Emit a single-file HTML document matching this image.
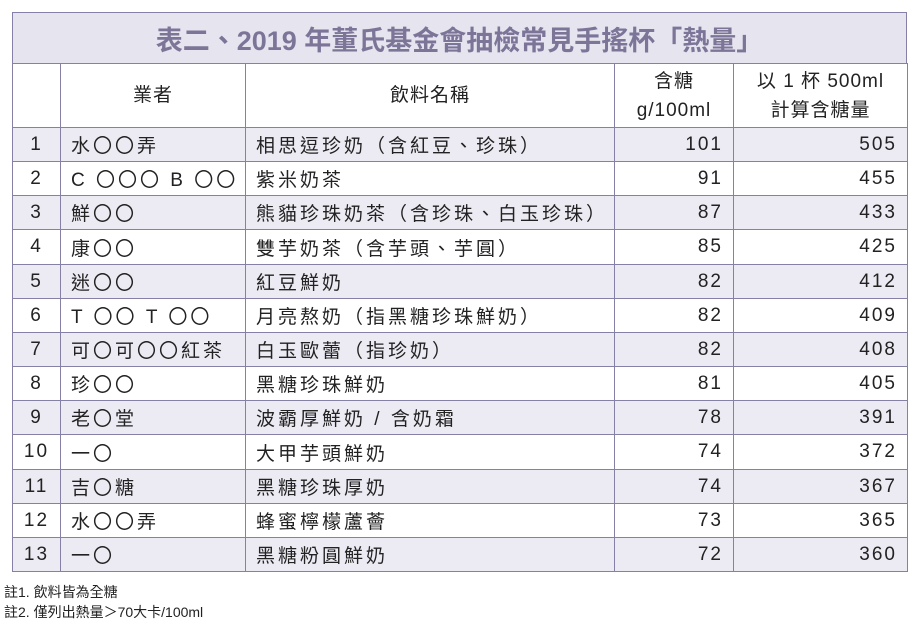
<!DOCTYPE html><html><head><meta charset="utf-8"><style>
body{margin:0;width:918px;height:629px;background:#fff;font-family:"Liberation Sans","Noto Sans CJK TC",sans-serif;color:#222;position:relative;overflow:hidden}
.c{position:absolute;box-sizing:border-box;border:1px solid #8580a6;display:flex;align-items:center;font-size:19px;white-space:nowrap}
.n{letter-spacing:2px}
.t{letter-spacing:3px}
.note{position:absolute;left:4px;font-size:14px}
</style></head><body>
<div class="c" style="left:12px;top:12px;width:895px;height:52px;background:#e6e4ef;justify-content:center;color:#7c7598;font-weight:bold;font-size:27px">表二、2019 年董氏基金會抽檢常見手搖杯「熱量」</div>
<div id="t"></div>
<div class="note" style="top:582px">註1. 飲料皆為全糖</div>
<div class="note" style="top:602px">註2. 僅列出熱量＞70大卡/100ml</div>
<script>
const X=[12,60,245,614,733,907];
const rows=[["1","水〇〇弄","相思逗珍奶（含紅豆、珍珠）","101","505"],["2","C 〇〇〇 B 〇〇","紫米奶茶","91","455"],["3","鮮〇〇","熊貓珍珠奶茶（含珍珠、白玉珍珠）","87","433"],["4","康〇〇","雙芋奶茶（含芋頭、芋圓）","85","425"],["5","迷〇〇","紅豆鮮奶","82","412"],["6","T 〇〇 T 〇〇","月亮熬奶（指黑糖珍珠鮮奶）","82","409"],["7","可〇可〇〇紅茶","白玉歐蕾（指珍奶）","82","408"],["8","珍〇〇","黑糖珍珠鮮奶","81","405"],["9","老〇堂","波霸厚鮮奶 / 含奶霜","78","391"],["10","一〇","大甲芋頭鮮奶","74","372"],["11","吉〇糖","黑糖珍珠厚奶","74","367"],["12","水〇〇弄","蜂蜜檸檬蘆薈","73","365"],["13","一〇","黑糖粉圓鮮奶","72","360"]];
let h="";
const hd=["","業者","飲料名稱","含糖<br>g/100ml","以 1 杯 500ml<br>計算含糖量"];
for(let j=0;j<5;j++)h+=`<div class="c" style="left:${X[j]}px;top:63px;width:${X[j+1]-X[j]+1}px;height:65px;justify-content:center;text-align:center;line-height:29px;letter-spacing:1px">${hd[j]}</div>`;
rows.forEach((r,i)=>{const y=Math.round(127+i*34.15),y2=Math.round(127+(i+1)*34.15);const bg=i%2==0?"#ecebf3":"#fff";
for(let j=0;j<5;j++){let st=j==0?"justify-content:center":j<3?"padding-left:10px":"justify-content:flex-end;padding-right:10px";
h+=`<div class="c ${j==1||j==2?'t':'n'}" style="left:${X[j]}px;top:${y}px;width:${X[j+1]-X[j]+1}px;height:${y2-y+1}px;background:${bg};${st}">${r[j]}</div>`;}});
document.getElementById("t").innerHTML=h;
</script></body></html>
